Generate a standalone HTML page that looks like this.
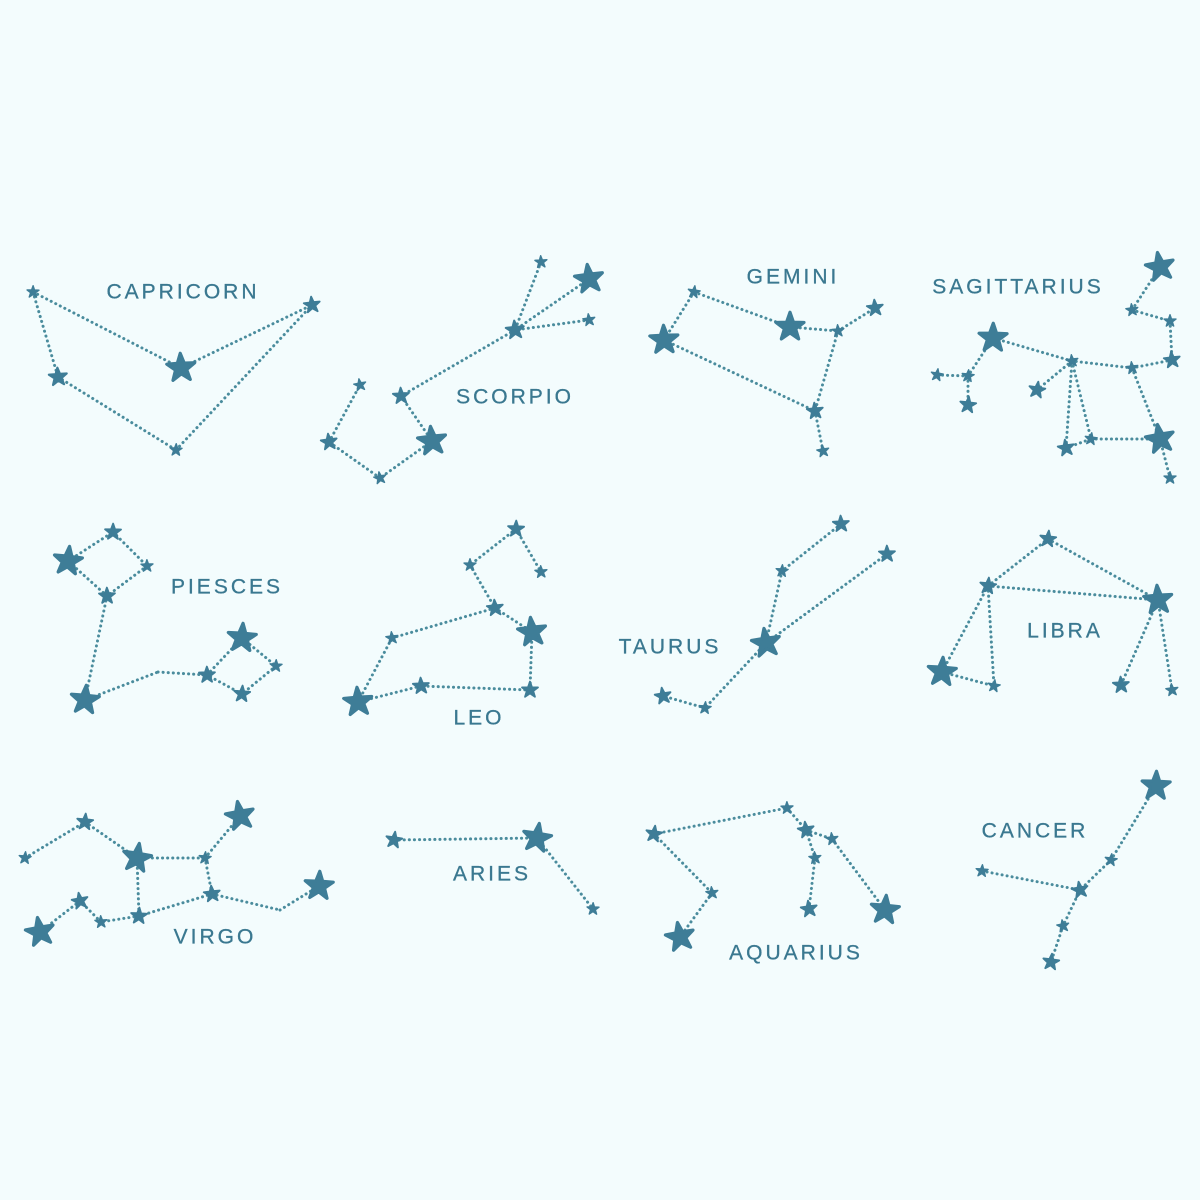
<!DOCTYPE html>
<html><head><meta charset="utf-8"><style>
html,body{margin:0;padding:0;background:#f3fcfd;}
svg{display:block}
text{font-family:"Liberation Sans",sans-serif;font-size:21px;fill:#3a7890;letter-spacing:3px;text-anchor:middle;dominant-baseline:middle;stroke:#3a7890;stroke-width:0.3}
.l{stroke:#4a8c9d;stroke-width:3;stroke-dasharray:0.1 5;stroke-linecap:round;fill:none}
</style></head><body>
<svg width="1200" height="1200" viewBox="0 0 1200 1200">
<defs><polygon id="s" points="0,-1 0.235,-0.324 0.951,-0.309 0.38,0.124 0.588,0.809 0,0.4 -0.588,0.809 -0.38,0.124 -0.951,-0.309 -0.235,-0.324" fill="#3e7d97" stroke="#3e7d97" stroke-width="0.22" stroke-linejoin="round"/></defs>
<g id="lines"></g><g id="stars"></g>
<text x="183" y="293">CAPRICORN</text>
<text x="515" y="398">SCORPIO</text>
<text x="793" y="278">GEMINI</text>
<text x="1018" y="288">SAGITTARIUS</text>
<text x="227" y="588">PIESCES</text>
<text x="479" y="719">LEO</text>
<text x="670" y="648">TAURUS</text>
<text x="1065" y="632">LIBRA</text>
<text x="215" y="938">VIRGO</text>
<text x="492" y="875">ARIES</text>
<text x="796" y="954">AQUARIUS</text>
<text x="1035" y="832">CANCER</text>
</svg>
<script>
const S=[[33,292,6],[58,377,9],[176,450,6],[312,305,8],[181,368,14],
[541,262,6],[589,279,14],[589,320,6],[515,330,9],[401,396,8],[432,441,14],[380,478,6],[329,442,8],[360,385,6],
[694,292,6],[664,340,14],[790,327,14],[838,331,6],[875,308,8],[815,411,8],[823,451,6],
[1160,267,14],[1132,310,6],[1170,321,6],[1172,360,8],[1132,368,6],[1072,361,6],[993,338,14],[968,376,6],[937,375,6],[968,405,8],[1037,390,8],[1160,439,14],[1091,439,6],[1066,448,8],[1170,478,6],
[113,532,8],[68,561,14],[147,566,6],[107,596,8],[85,700,14],[207,675,8],[242,638,14],[276,666,6],[242,694,8],
[516,529,8],[541,572,6],[470,565,6],[495,608,8],[532,632,14],[530,690,8],[421,686,8],[358,702,14],[392,638,6],
[841,524,8],[887,554,8],[782,571,6],[766,643,14],[705,708,6],[663,696,8],
[1048,539,8],[988,586,8],[1158,600,14],[942,672,14],[994,686,6],[1121,685,8],[1172,690,6],
[25,858,6],[85,822,8],[137,858,14],[205,858,6],[240,816,14],[212,894,8],[139,916,8],[101,922,6],[80,901,8],[40,932,14],[319,886,14],
[394,840,8],[537,838,14],[593,909,6],
[654,834,8],[787,808,6],[806,830,8],[832,839,6],[815,858,6],[809,909,8],[885,910,14],[712,893,6],[680,937,14],
[1156,786,14],[1111,860,6],[1080,890,8],[982,871,6],[1063,926,6],[1051,962,8]];
const L=[[33,292,181,368],[181,368,312,305],[33,292,58,377],[58,377,176,450],[176,450,312,305],
[541,262,515,330],[589,279,515,330],[589,320,515,330],[515,330,401,396],[401,396,432,441],[432,441,380,478],[380,478,329,442],[329,442,360,385],
[694,292,790,327],[790,327,838,331],[838,331,875,308],[838,331,815,411],[815,411,823,451],[664,340,815,411],[694,292,664,340],
[1160,267,1132,310],[1132,310,1170,321],[1170,321,1172,360],[1172,360,1132,368],[1132,368,1072,361],[1072,361,993,338],[993,338,968,376],[968,376,937,375],[968,376,968,405],[1072,361,1037,390],[1072,361,1066,448],[1072,361,1091,439],[1066,448,1091,439],[1091,439,1160,439],[1132,368,1160,439],[1160,439,1170,478],
[68,561,113,532],[113,532,147,566],[147,566,107,596],[107,596,68,561],[107,596,85,700],[85,700,158,672],[158,672,207,675],[207,675,242,638],[242,638,276,666],[276,666,242,694],[242,694,207,675],
[516,529,541,572],[516,529,470,565],[470,565,495,608],[495,608,532,632],[532,632,530,690],[530,690,421,686],[421,686,358,702],[358,702,392,638],[392,638,495,608],
[841,524,782,571],[782,571,766,643],[887,554,766,643],[766,643,705,708],[705,708,663,696],
[988,586,1048,539],[1048,539,1158,600],[988,586,1158,600],[988,586,942,672],[988,586,994,686],[942,672,994,686],[1158,600,1121,685],[1158,600,1172,690],
[25,858,85,822],[85,822,137,858],[137,858,205,858],[205,858,240,816],[205,858,212,894],[137,858,139,916],[139,916,212,894],[139,916,101,922],[101,922,80,901],[80,901,40,932],[212,894,280,910],[280,910,319,886],
[394,840,537,838],[537,838,593,909],
[654,834,787,808],[787,808,806,830],[806,830,832,839],[832,839,885,910],[815,858,809,909],[806,830,815,858],[654,834,712,893],[712,893,680,937],
[1156,786,1111,860],[1111,860,1080,890],[982,871,1080,890],[1080,890,1063,926],[1063,926,1051,962]];
const NS="http://www.w3.org/2000/svg";
const gl=document.getElementById('lines'),gs=document.getElementById('stars');
L.forEach(a=>{const e=document.createElementNS(NS,'line');e.setAttribute('x1',a[0]);e.setAttribute('y1',a[1]);e.setAttribute('x2',a[2]);e.setAttribute('y2',a[3]);e.setAttribute('class','l');gl.appendChild(e);});
S.forEach(a=>{const e=document.createElementNS(NS,'use');e.setAttribute('href','#s');e.setAttribute('transform',`translate(${a[0]},${a[1]}) scale(${a[2]*1.05}) rotate(${(a[0]*7)%20-10})`);gs.appendChild(e);});
</script>
</body></html>
